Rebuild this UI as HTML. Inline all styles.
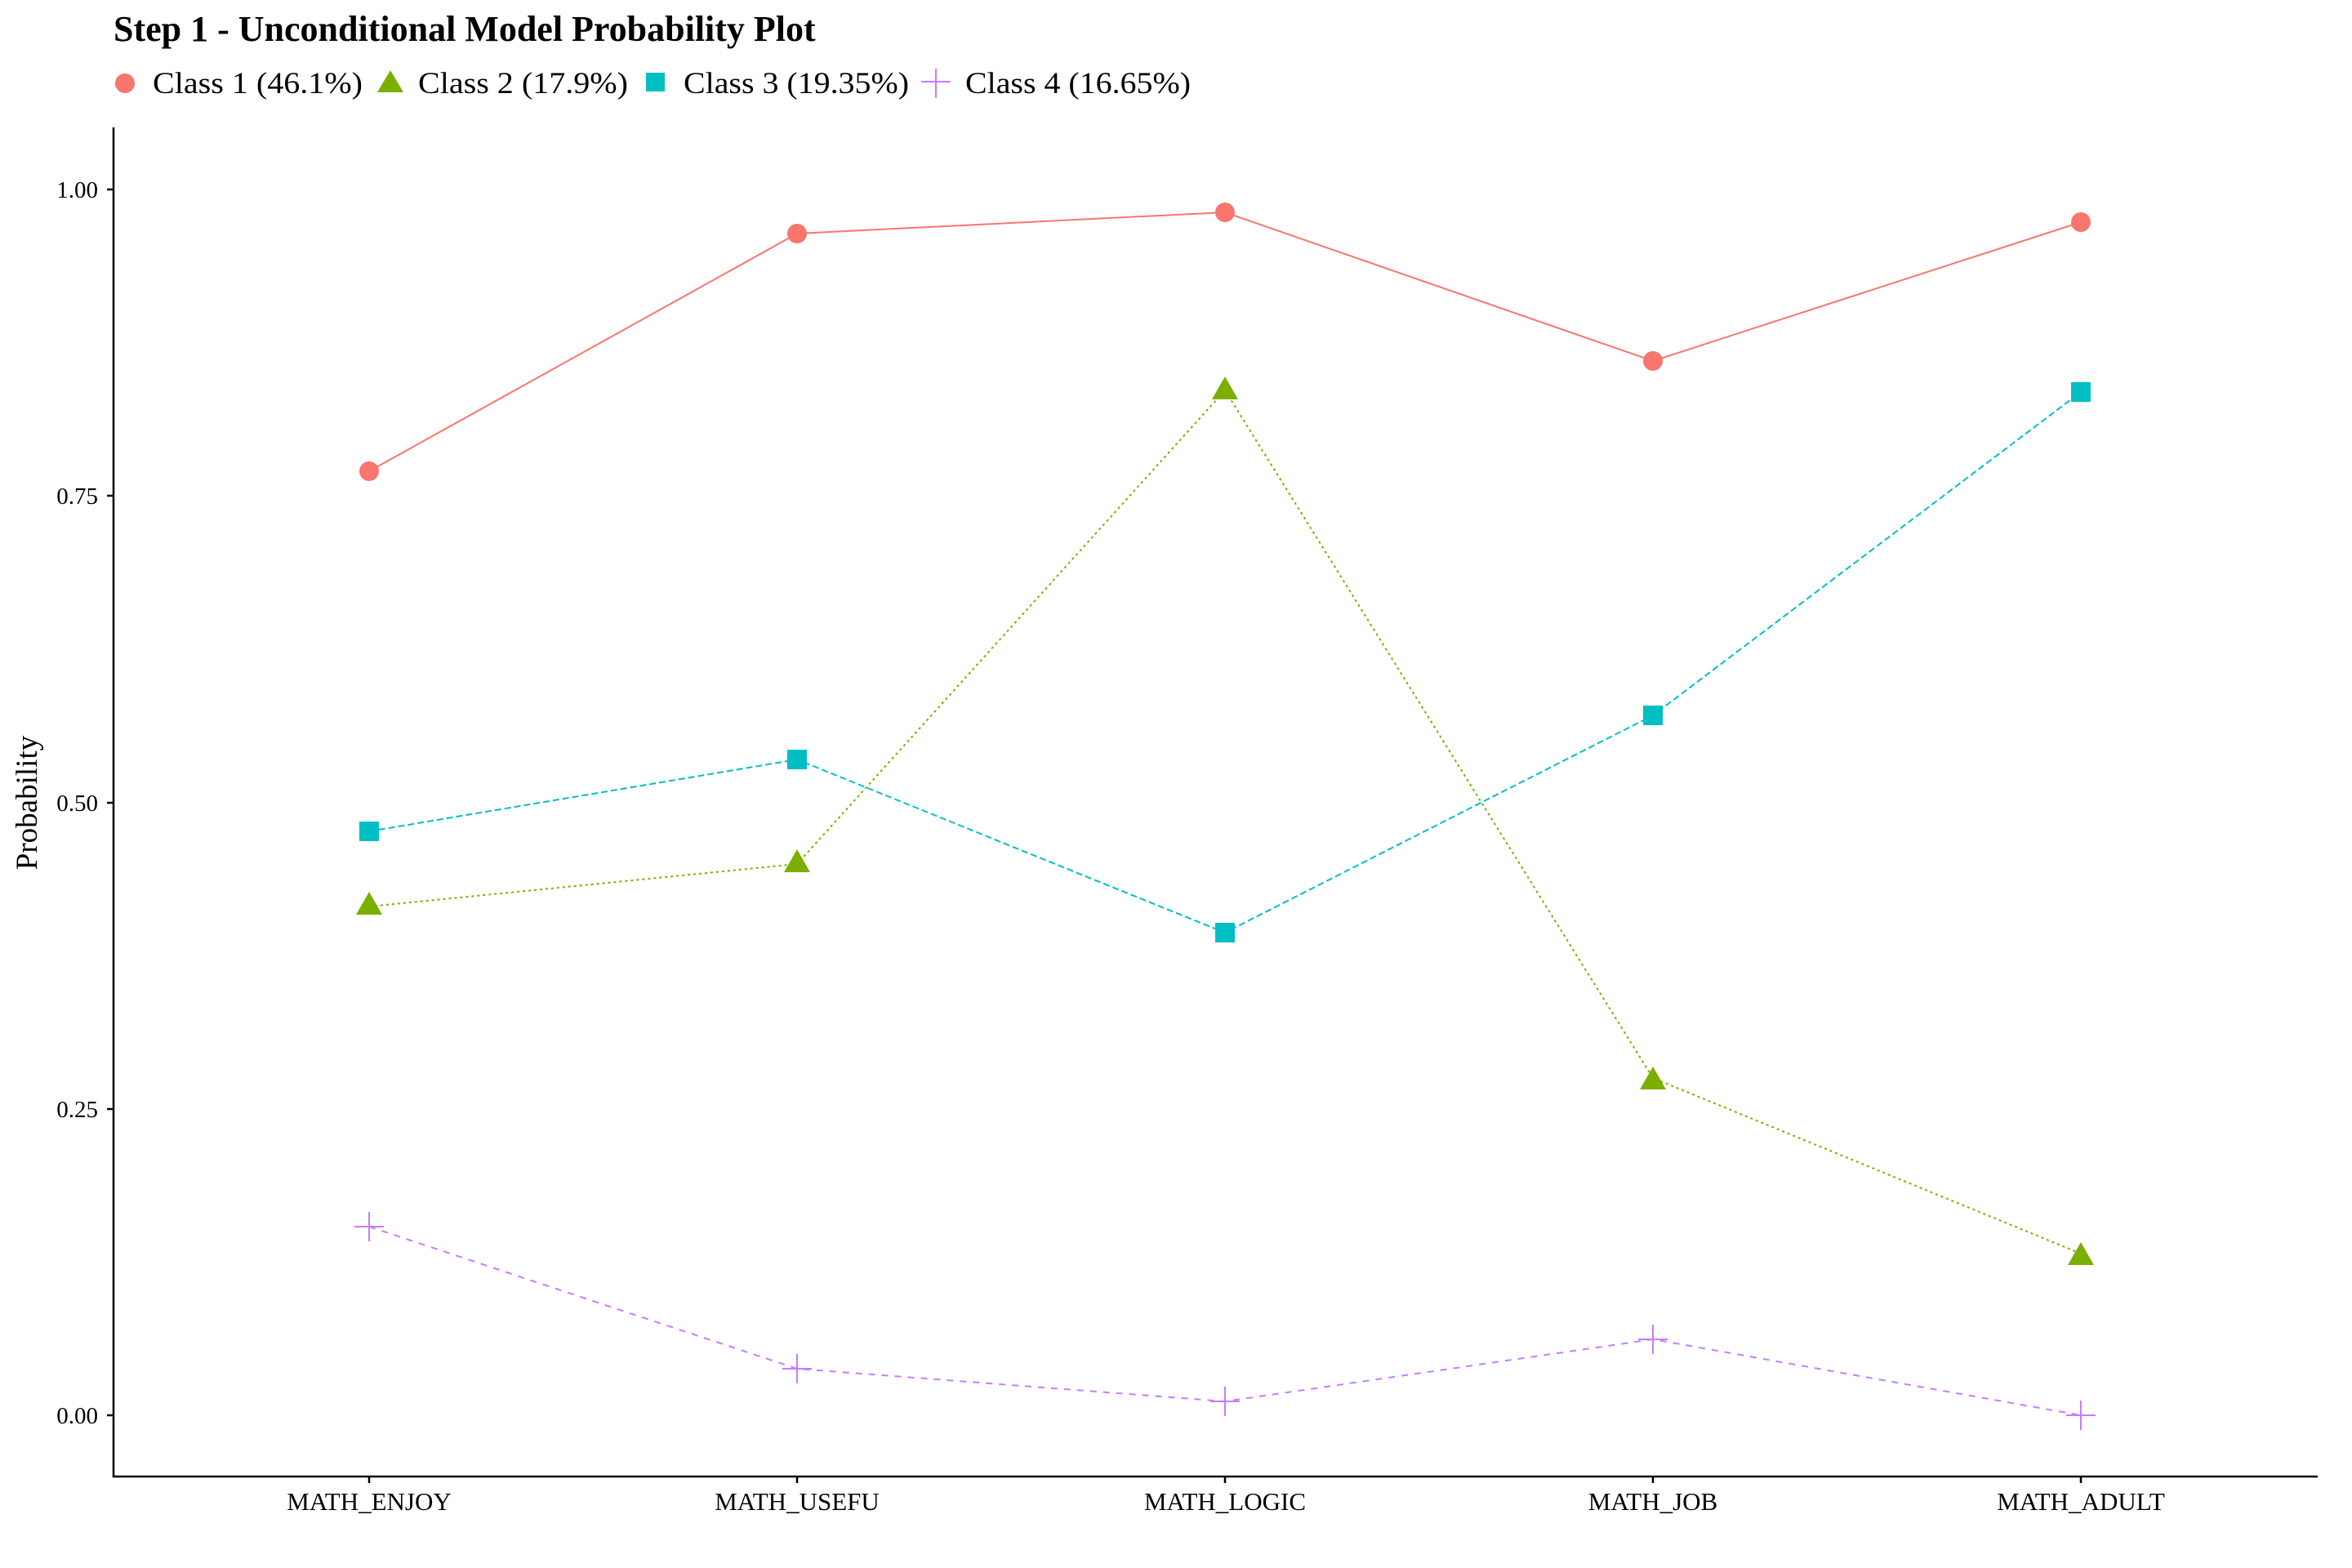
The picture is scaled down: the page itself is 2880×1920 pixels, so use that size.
<!DOCTYPE html>
<html><head><meta charset="utf-8"><style>
html,body{margin:0;padding:0;background:#fff;}
svg{display:block;}
text{font-family:"Liberation Serif","DejaVu Serif",serif;fill:#000;}
</style></head><body>
<svg width="2880" height="1920" viewBox="0 0 2880 1920" xmlns="http://www.w3.org/2000/svg">
<rect width="2880" height="1920" fill="#fff"/>
<text x="139" y="50" font-size="44" font-weight="bold">Step 1 - Unconditional Model Probability Plot</text>
<!-- legend -->
<circle cx="153" cy="102" r="12" fill="#F8766D"/>
<text x="187" y="114" font-size="37" textLength="257" lengthAdjust="spacingAndGlyphs">Class 1 (46.1%)</text>
<polygon points="478,86 494,113 462,113" fill="#7CAE00"/>
<text x="512" y="114" font-size="37" textLength="257" lengthAdjust="spacingAndGlyphs">Class 2 (17.9%)</text>
<rect x="791" y="89" width="23" height="23" fill="#00BFC4"/>
<text x="837" y="114" font-size="37" textLength="276" lengthAdjust="spacingAndGlyphs">Class 3 (19.35%)</text>
<path d="M1146,84v36M1128,100h36" stroke="#C77CFF" stroke-width="2"/>
<text x="1182" y="114" font-size="37" textLength="276" lengthAdjust="spacingAndGlyphs">Class 4 (16.65%)</text>
<!-- axes -->
<path d="M139,156V1808H2838" stroke="#000" stroke-width="2.5" fill="none"/>
<g stroke="#000" stroke-width="2.5">
<path d="M131,232h8M131,607h8M131,983h8M131,1358h8M131,1733h8"/>
<path d="M452,1808v8M976,1808v8M1500,1808v8M2024,1808v8M2548,1808v8"/>
</g>
<g font-size="29" text-anchor="end">
<text x="120" y="242">1.00</text>
<text x="120" y="617">0.75</text>
<text x="120" y="993">0.50</text>
<text x="120" y="1368">0.25</text>
<text x="120" y="1743">0.00</text>
</g>
<g font-size="31" text-anchor="middle">
<text x="452" y="1849">MATH_ENJOY</text>
<text x="976" y="1849">MATH_USEFU</text>
<text x="1500" y="1849">MATH_LOGIC</text>
<text x="2024" y="1849">MATH_JOB</text>
<text x="2548" y="1849">MATH_ADULT</text>
</g>
<text transform="translate(45,983) rotate(-90)" font-size="37" text-anchor="middle">Probability</text>
<!-- lines -->
<polyline points="452,577 976,286 1500,260 2024,442 2548,272" fill="none" stroke="#F8766D" stroke-width="2"/>
<polyline points="452,1110 976,1058 1500,478 2024,1320 2548,1535" fill="none" stroke="#7CAE00" stroke-width="2" stroke-dasharray="3,4"/>
<polyline points="452,1018 976,930 1500,1142 2024,876 2548,480" fill="none" stroke="#00BFC4" stroke-width="2" stroke-dasharray="8,4"/>
<polyline points="452,1502 976,1676 1500,1716 2024,1640 2548,1733" fill="none" stroke="#C77CFF" stroke-width="2" stroke-dasharray="8,8"/>
<!-- markers -->
<g fill="#F8766D">
<circle cx="452" cy="577" r="12"/><circle cx="976" cy="286" r="12"/><circle cx="1500" cy="260" r="12"/><circle cx="2024" cy="442" r="12"/><circle cx="2548" cy="272" r="12"/>
</g>
<g fill="#7CAE00">
<polygon points="452,1092 468,1120 436,1120"/>
<polygon points="976,1040 992,1068 960,1068"/>
<polygon points="1500,461 1516,489 1484,489"/>
<polygon points="2024,1306 2040,1334 2008,1334"/>
<polygon points="2548,1521 2564,1549 2532,1549"/>
</g>
<g fill="#00BFC4">
<rect x="440" y="1006" width="24" height="24"/><rect x="964" y="918" width="24" height="24"/><rect x="1488" y="1130" width="24" height="24"/><rect x="2012" y="864" width="24" height="24"/><rect x="2536" y="468" width="24" height="24"/>
</g>
<g stroke="#C77CFF" stroke-width="2">
<path d="M452,1484v36M434,1502h36"/>
<path d="M976,1658v36M958,1676h36"/>
<path d="M1500,1698v36M1482,1716h36"/>
<path d="M2024,1622v36M2006,1640h36"/>
<path d="M2548,1715v36M2530,1733h36"/>
</g>
</svg>
</body></html>
